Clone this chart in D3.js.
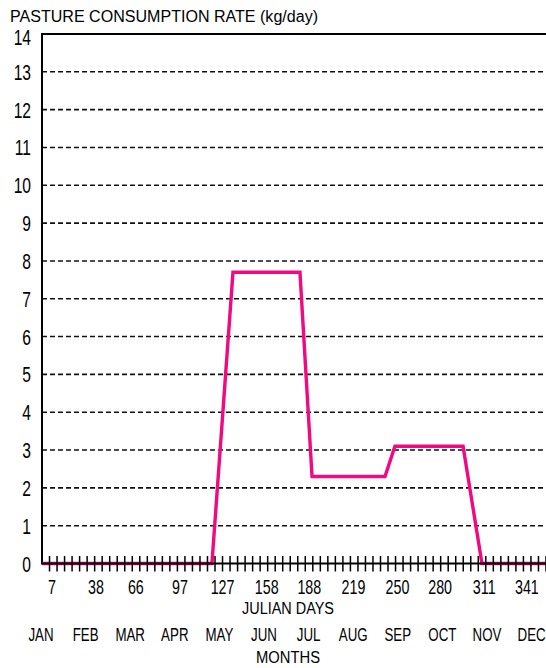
<!DOCTYPE html>
<html>
<head>
<meta charset="utf-8">
<script src="https://cdn.jsdelivr.net/npm/d3@7"></script>
<style>
  html, body { margin: 0; padding: 0; background: #fff; }
  svg { display: block; }
  text { font-family: "Liberation Sans", Arial, sans-serif; fill: #000; }
</style>
</head>
<body>
<script>
// ---- data ----
const title = "PASTURE CONSUMPTION RATE (kg/day)";
const xTitle = "JULIAN DAYS";
const monthTitle = "MONTHS";
const yTicks = d3.range(0, 15);               // 0..14
const dayLabels = [7, 38, 66, 97, 127, 158, 188, 219, 250, 280, 311, 341];
const monthLabels = ["JAN","FEB","MAR","APR","MAY","JUN","JUL","AUG","SEP","OCT","NOV","DEC"];
const days   = [0,   119.5, 134.3, 181.4, 189.9, 241.2, 248.2, 296.1, 309.4, 365];
const values = [0,   0,     7.7,   7.7,   2.3,   2.3,   3.1,   3.1,   0,     0];
const minorTickStep = 365 / 69;

// ---- layout ----
const W = 546, H = 668;
const svg = d3.select("body").append("svg").attr("width", W).attr("height", H);

const x = d3.scaleLinear().domain([0, 365]).range([42, 42 + 365 * 1.422]);
const y = d3.scaleLinear().domain([0, 14]).range([563.5, 34]);
const mx = d3.scalePoint().domain(monthLabels).range([41, 531.6]);

// title
svg.append("text").attr("x", 10).attr("y", 22)
  .attr("font-size", 16).attr("textLength", 308).attr("lengthAdjust", "spacingAndGlyphs")
  .text(title);

// gridlines (dashed) for 1..13
svg.append("g").selectAll("line").data(yTicks.filter(d => d > 0 && d < 14)).join("line")
  .attr("x1", x(0)).attr("x2", W)
  .attr("y1", d => y(d)).attr("y2", d => y(d))
  .attr("stroke", "#111").attr("stroke-width", 1.6).attr("stroke-dasharray", "5,3");

// top solid line
svg.append("line").attr("x1", x(0)).attr("x2", W).attr("y1", y(14)).attr("y2", y(14))
  .attr("stroke", "#000").attr("stroke-width", 2);

// y axis labels
svg.append("g").selectAll("text").data(yTicks).join("text")
  .attr("text-anchor", "end").attr("font-size", 22)
  .attr("transform", d => `translate(31,${y(d) + 8 + (d === 14 ? 3 : 0)}) scale(0.71,1)`)
  .text(d => d);

// y axis line
svg.append("line").attr("x1", x(0)).attr("x2", x(0)).attr("y1", y(14) - 1).attr("y2", y(0) + 1)
  .attr("stroke", "#000").attr("stroke-width", 2);

// data line
const line = d3.line().x((d, i) => x(days[i])).y(d => y(d));
svg.append("path").datum(values)
  .attr("d", line).attr("fill", "none")
  .attr("stroke", "#f2087f").attr("stroke-width", 3.4)
  .attr("stroke-linejoin", "miter");

// x axis line
svg.append("line").attr("x1", x(0)).attr("x2", W).attr("y1", y(0)).attr("y2", y(0))
  .attr("stroke", "#000").attr("stroke-width", 2);

// minor ticks
const tickVals = d3.range(minorTickStep, 365, minorTickStep);
svg.append("g").selectAll("line").data(tickVals).join("line")
  .attr("x1", d => x(d)).attr("x2", d => x(d))
  .attr("y1", y(0) - 7.5).attr("y2", y(0) + 8)
  .attr("stroke", "#000").attr("stroke-width", 1.5);

// day labels
svg.append("g").selectAll("text").data(dayLabels).join("text")
  .attr("text-anchor", "middle").attr("font-size", 21)
  .attr("transform", d => `translate(${x(d)},594) scale(0.68,1)`)
  .text(d => d);

// JULIAN DAYS
svg.append("text").attr("x", 242).attr("y", 614)
  .attr("font-size", 16).attr("textLength", 92).attr("lengthAdjust", "spacingAndGlyphs")
  .text(xTitle);

// month labels
svg.append("g").selectAll("text").data(monthLabels).join("text")
  .attr("text-anchor", "middle").attr("font-size", 18)
  .attr("transform", d => `translate(${mx(d)},641) scale(0.74,1)`)
  .text(d => d);

// MONTHS
svg.append("text").attr("x", 256).attr("y", 663)
  .attr("font-size", 16).attr("textLength", 64).attr("lengthAdjust", "spacingAndGlyphs")
  .text(monthTitle);
</script>
</body>
</html>
